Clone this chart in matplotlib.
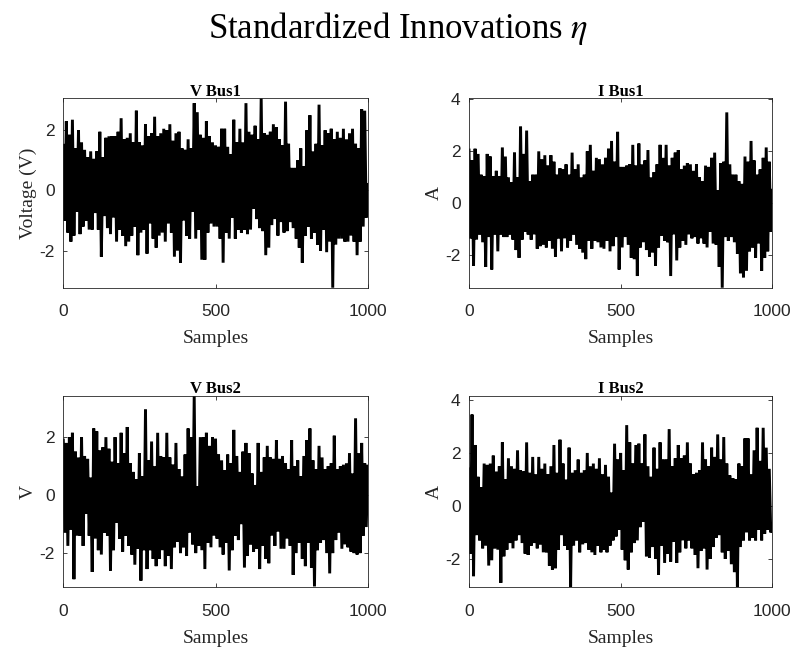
import numpy as np
import matplotlib
matplotlib.use("Agg")
import matplotlib.pyplot as plt

plt.rcParams['mathtext.fontset'] = 'stix'
plt.rcParams['font.family'] = ['Liberation Sans', 'DejaVu Sans']
plt.rcParams['axes.unicode_minus'] = False

# Innovation values, one every 5 samples
v_bus1 = [1.5, -1.0, 2.3, -1.4, 1.85, -1.7, 2.35, -1.5, 1.4, -0.7, 2.0, -1.45, 1.6, -1.2, 1.35, -1.0, 1.1, -1.3, 1.3, -1.3,
          1.05, -0.75, 1.3, -1.3, 1.95, -2.2, 1.1, -0.85, 1.75, -1.25, 1.8, -1.45, 1.8, -0.9, 1.8, -1.7, 1.95, -1.3, 2.4, -1.5,
          1.7, -1.85, 1.75, -1.7, 1.9, -1.5, 1.6, -1.2, 2.65, -2.15, 1.6, -1.4, 1.5, -1.3, 2.2, -2.1, 1.8, -1.1, 1.9, -1.6,
          2.45, -1.9, 1.8, -1.5, 1.9, -1.4, 2.05, -1.7, 2.0, -1.1, 2.2, -1.4, 1.65, -2.2, 1.9, -2.0, 1.95, -2.4, 1.4, -1.0,
          1.35, -1.5, 1.7, -1.6, 1.4, -0.7, 2.9, -1.6, 2.6, -1.3, 1.85, -2.3, 1.75, -2.3, 2.3, -1.4, 1.8, -1.1, 1.6, -1.2,
          1.5, -1.2, 1.45, -1.6, 2.05, -2.4, 2.05, -1.4, 1.45, -1.6, 1.2, -0.9, 2.35, -1.6, 1.6, -1.3, 2.05, -1.4, 1.6, -1.3,
          2.9, -1.45, 1.95, -1.3, 1.85, -0.6, 2.15, -0.95, 1.7, -1.25, 3.06, -1.35, 1.9, -2.15, 1.85, -1.9, 1.95, -1.15, 2.2, -0.95,
          2.1, -1.5, 1.7, -1.05, 1.5, -1.4, 2.95, -1.35, 1.55, -1.05, 0.75, -1.25, 0.75, -1.6, 1.0, -1.9, 1.4, -2.4, 0.8, -1.5,
          2.0, -1.2, 2.5, -1.6, 1.3, -1.4, 1.55, -1.8, 2.85, -2.0, 1.5, -1.3, 2.0, -2.05, 1.9, -1.7, 2.05, -3.23, 1.7, -1.8,
          1.95, -1.6, 1.75, -1.6, 2.05, -1.7, 1.7, -1.7, 1.9, -1.5, 2.05, -1.7, 1.55, -2.15, 1.4, -1.7, 2.7, -1.2, 2.65, -0.9,
          0.2]

i_bus1 = [2.05, -1.35, 1.65, -2.4, 2.1, -1.4, 1.9, -1.2, 1.1, -1.5, 1.05, -2.45, 1.9, -1.3, 1.8, -2.55, 1.05, -1.2, 1.25, -1.85,
          1.05, -1.2, 2.15, -1.3, 1.8, -1.3, 1.0, -1.2, 0.8, -1.4, 1.95, -1.8, 1.0, -2.1, 2.95, -1.4, 1.9, -1.1, 2.8, -1.2,
          0.85, -1.4, 1.1, -1.2, 1.1, -1.75, 2.0, -1.65, 1.7, -1.6, 1.85, -1.7, 1.45, -1.45, 1.85, -1.75, 1.6, -2.05, 1.1, -1.35,
          1.35, -1.85, 1.3, -1.35, 1.5, -1.7, 1.1, -1.45, 1.95, -1.2, 1.3, -1.6, 1.5, -1.75, 1.0, -1.9, 1.1, -2.15, 2.0, -1.45,
          2.25, -1.75, 1.25, -1.45, 1.75, -1.5, 1.7, -1.7, 1.5, -1.75, 1.75, -1.45, 2.1, -1.85, 2.4, -1.65, 1.6, -1.3, 2.75, -2.55,
          1.4, -1.7, 1.4, -1.3, 1.45, -1.6, 1.5, -2.1, 2.25, -2.15, 1.45, -2.8, 2.3, -1.7, 1.5, -1.5, 1.65, -1.8, 2.05, -2.05,
          1.0, -1.9, 1.2, -2.4, 1.5, -1.7, 2.25, -1.25, 1.75, -1.45, 2.25, -1.5, 1.45, -2.8, 1.75, -1.2, 1.95, -2.2, 2.05, -1.7,
          1.3, -1.45, 1.45, -1.6, 1.55, -1.2, 1.5, -1.35, 1.25, -1.3, 1.5, -1.55, 1.0, -1.35, 0.85, -1.55, 1.45, -1.7, 1.4, -1.1,
          1.75, -1.55, 1.95, -1.6, 0.5, -2.45, 1.55, -3.25, 1.6, -1.3, 3.5, -1.45, 1.5, -1.3, 1.1, -1.5, 1.1, -1.95, 0.85, -2.7,
          0.75, -2.85, 1.8, -2.6, 1.6, -1.85, 2.4, -1.7, 1.65, -2.1, 1.1, -1.55, 1.3, -2.6, 1.75, -2.1, 2.15, -1.85, 1.6, -1.1,
          0.5]

v_bus2 = [1.9, -1.3, 1.8, -1.75, 2.0, -1.2, 2.15, -2.9, 1.5, -1.4, 1.3, -1.4, 2.0, -1.75, 1.35, -0.65, 1.25, -1.4, 0.6, -2.65,
          2.3, -1.5, 2.2, -1.9, 1.55, -2.05, 1.65, -1.3, 2.0, -1.4, 1.6, -2.6, 1.15, -1.9, 2.0, -0.95, 1.1, -1.5, 2.15, -1.95,
          1.45, -1.4, 2.35, -1.75, 1.1, -2.05, 0.8, -2.4, 0.55, -1.85, 1.45, -2.95, 0.65, -1.9, 2.95, -2.55, 1.2, -1.9, 1.85, -2.2,
          1.0, -2.45, 2.15, -2.2, 1.35, -1.9, 1.3, -2.45, 2.15, -2.1, 1.3, -2.55, 1.05, -1.8, 1.8, -1.6, 0.9, -2.0, 0.65, -1.8,
          1.4, -2.1, 2.3, -1.3, 2.0, -1.7, 3.42, -2.0, 0.3, -1.75, 2.0, -1.9, 2.0, -2.55, 2.15, -1.65, 1.7, -1.8, 2.0, -1.4,
          1.95, -1.5, 1.4, -1.8, 1.2, -2.05, 0.85, -1.65, 1.4, -2.6, 1.1, -1.9, 2.25, -1.4, 1.35, -1.55, 0.8, -1.0, 1.5, -2.5,
          1.8, -2.1, 1.45, -1.7, 0.75, -1.95, 0.35, -1.85, 1.8, -2.55, 0.8, -1.75, 1.3, -2.2, 1.7, -2.35, 1.3, -1.4, 1.25, -1.75,
          1.9, -1.25, 1.25, -1.85, 1.35, -1.85, 1.1, -1.5, 0.9, -1.75, 1.9, -2.75, 1.0, -2.0, 1.2, -1.65, 0.65, -2.2, 1.35, -2.45,
          1.9, -1.65, 2.3, -2.5, 1.2, -3.15, 0.9, -1.9, 1.7, -1.65, 1.3, -1.55, 0.9, -2.0, 1.0, -2.7, 1.1, -2.0, 2.05, -1.55,
          0.9, -1.3, 1.0, -1.85, 1.05, -1.7, 1.1, -1.8, 1.45, -1.95, 0.75, -2.0, 2.65, -2.05, 1.45, -2.0, 1.8, -1.4, 1.1, -1.1,
          1.0]

i_bus2 = [1.4, -1.8, 3.45, -2.65, 2.3, -1.1, 1.1, -1.3, 0.7, -1.6, 1.6, -1.5, 1.55, -2.25, 1.6, -2.05, 1.9, -1.6, 1.3, -1.65,
          1.5, -2.9, 2.4, -1.9, 1.0, -1.65, 1.8, -1.4, 1.5, -1.6, 1.4, -1.3, 2.1, -1.1, 1.35, -1.4, 1.3, -1.8, 2.4, -1.85,
          1.25, -1.5, 1.85, -1.4, 1.2, -1.6, 1.85, -1.45, 1.4, -1.75, 1.6, -1.75, 1.2, -2.25, 1.5, -2.4, 2.3, -2.35, 1.25, -1.65,
          2.5, -1.1, 1.6, -1.5, 1.0, -1.65, 2.2, -3.05, 1.25, -1.5, 1.35, -1.3, 1.75, -1.75, 1.25, -1.45, 1.35, -1.4, 2.0, -1.65,
          1.5, -1.75, 1.6, -1.85, 1.4, -1.5, 1.8, -1.75, 1.2, -1.65, 1.55, -1.75, 1.1, -1.5, 0.5, -1.3, 2.35, -1.15, 1.75, -0.9,
          2.0, -1.65, 1.35, -2.05, 3.05, -2.4, 2.4, -1.75, 1.6, -1.4, 2.3, -1.3, 2.35, -0.8, 1.6, -0.6, 2.7, -1.9, 1.5, -1.95,
          1.1, -1.55, 2.2, -2.0, 1.4, -2.6, 2.4, -1.5, 1.75, -2.15, 1.75, -1.8, 2.9, -2.1, 1.5, -1.35, 1.8, -2.15, 2.3, -1.75,
          1.8, -1.3, 1.9, -1.6, 2.4, -1.3, 1.6, -1.6, 1.2, -1.85, 1.25, -2.35, 1.35, -1.7, 2.4, -1.6, 1.75, -2.4, 1.5, -2.0,
          2.2, -1.55, 1.85, -1.2, 2.7, -1.1, 1.75, -1.75, 2.6, -2.0, 1.6, -1.7, 1.15, -2.2, 1.05, -2.5, 1.0, -3.05, 1.6, -1.55,
          1.5, -1.3, 2.55, -1.0, 2.55, -1.3, 1.2, -1.2, 2.1, -1.3, 2.95, -0.9, 1.7, -1.3, 2.95, -1.05, 2.2, -0.9, 1.4, -1.0,
          -0.7]

titles = ["V Bus1", "I Bus1", "V Bus2", "I Bus2"]
ylabels = ["Voltage (V)", "A", "V", "A"]
series = [v_bus1, i_bus1, v_bus2, i_bus2]
ylims = [(-3.23, 3.06), (-3.25, 4.04), (-3.18, 3.42), (-3.07, 4.15)]
yticks = [[-2, 0, 2], [-2, 0, 2, 4], [-2, 0, 2], [-2, 0, 2, 4]]

# axes rectangles in figure fractions (left, bottom, width, height)
rects = [(0.0795, 0.5594, 0.3825, 0.2900),
         (0.5892, 0.5594, 0.3810, 0.2900),
         (0.0795, 0.1006, 0.3825, 0.2930),
         (0.5892, 0.1006, 0.3810, 0.2930)]

serif = ['Liberation Serif', 'DejaVu Serif']
edge = '#262626'

fig = plt.figure(figsize=(7.96, 6.53), dpi=100)

for i in range(4):
    ax = fig.add_axes(rects[i])
    y = np.array(series[i])
    samples = np.arange(len(y)) * 5
    ax.plot(samples, y, color='black', linewidth=2.1, solid_joinstyle='miter')

    ax.set_xlim(0, 1000)
    ax.set_ylim(*ylims[i])
    ax.set_xticks([0, 500, 1000])
    ax.set_yticks(yticks[i])
    ax.tick_params(direction='in', top=True, right=True, length=3, width=0.6,
                   colors=edge, labelsize=12.5)
    ax.tick_params(axis='x', pad=12)
    ax.tick_params(axis='y', pad=6)
    for sp in ax.spines.values():
        sp.set_color(edge)
        sp.set_linewidth(0.6)

    ax.set_title(titles[i], fontfamily=serif, fontweight='bold', fontsize=12, pad=2)
    ax.set_xlabel("Samples", fontfamily=serif, fontsize=14, color=edge, labelpad=8)
    ax.set_ylabel(ylabels[i], fontfamily=serif, fontsize=14, color=edge, labelpad=2)

fig.suptitle(r"Standardized Innovations $\eta$", fontfamily=serif, fontsize=25, y=0.985)

fig.savefig("out.png", dpi=100)
